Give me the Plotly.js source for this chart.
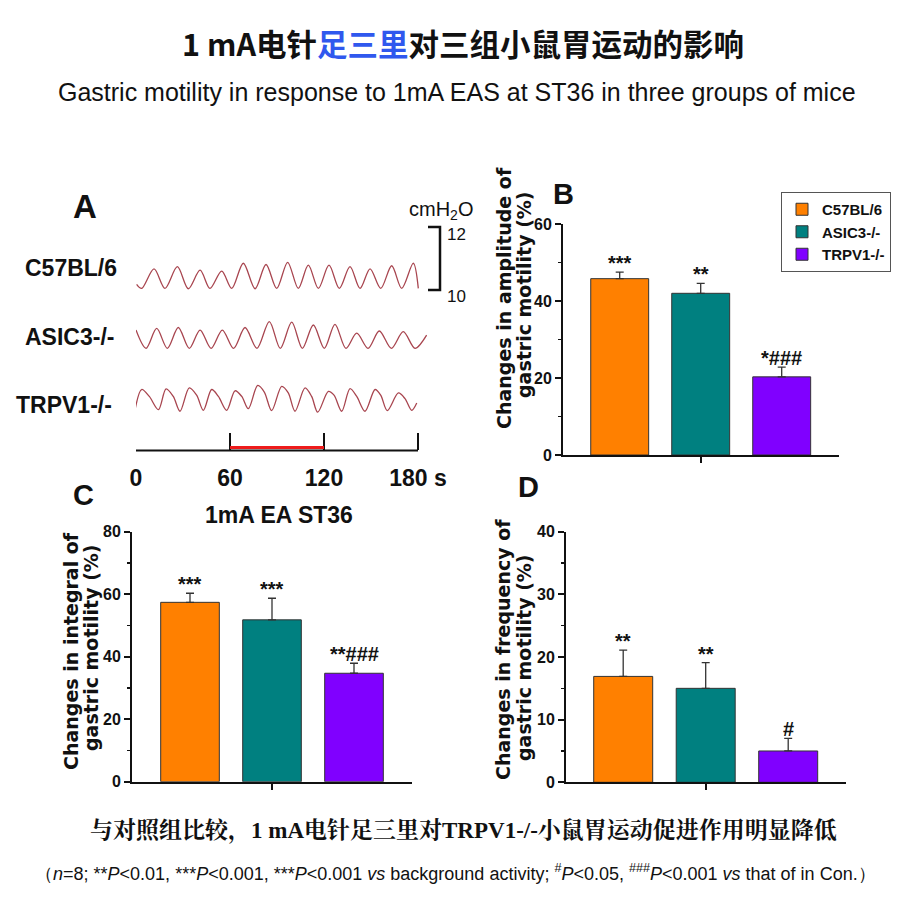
<!DOCTYPE html>
<html>
<head>
<meta charset="utf-8">
<script src="https://cdn.plot.ly/plotly-3.0.1.min.js"></script>
<style>html,body{margin:0;padding:0;background:#fff}#chart{width:900px;height:921px}</style>
</head>
<body>
<div id="chart"></div>
<script>
// ---------------- DATA ----------------
const categories = ['C57BL/6', 'ASIC3-/-', 'TRPV1-/-'];

// Panel B: amplitude change (%)
const amplitude = [45.8, 42.0, 20.3];
const amplitudeErr = [1.7, 2.6, 2.5];
const amplitudeSig = ['***', '**', '*###'];

// Panel C: integral change (%)
const integral = [57.4, 51.8, 34.7];
const integralErr = [2.9, 6.9, 3.2];
const integralSig = ['***', '***', '**###'];

// Panel D: frequency change (%)
const frequency = [16.9, 15.0, 5.0];
const frequencyErr = [4.2, 4.1, 2.0];
const frequencySig = ['**', '**', '#'];

// Panel A: recordings (time s, pressure cmH2O), read at peaks / troughs
const c57Time = [0.4, 3.6, 11.5, 18.5, 26.4, 33.4, 40.9, 47.2, 54.7, 61.1, 68.5, 76.0, 83.0, 89.8, 96.8, 103.6, 110.0, 116.4, 123.2, 129.8, 136.6, 143.0, 149.4, 156.2, 163.2, 169.6, 177.0, 180.2];
const c57Pressure = [10.18, 10.05, 10.67, 10.05, 10.74, 10.04, 10.63, 10.05, 10.60, 10.05, 10.85, 10.04, 10.81, 10.05, 10.88, 10.05, 10.79, 10.05, 10.79, 10.05, 10.74, 10.05, 10.67, 10.05, 10.77, 10.05, 10.85, 10.05];

const asicTime = [0.0, 6.4, 13.2, 20.0, 27.0, 34.0, 40.9, 47.9, 55.1, 62.3, 69.6, 77.2, 85.1, 92.1, 99.4, 106.2, 113.2, 120.2, 127.0, 134.0, 140.9, 148.1, 155.3, 163.0, 170.6, 178.1, 185.5];
const asicPressure = [10.58, 10.00, 10.63, 10.00, 10.66, 10.00, 10.58, 10.00, 10.58, 10.00, 10.66, 10.00, 10.85, 10.00, 10.83, 10.00, 10.74, 10.00, 10.76, 10.00, 10.48, 10.00, 10.55, 10.00, 10.53, 10.00, 10.42];

const trpvTime = [-0.6, 3.6, 8.5, 14.3, 19.2, 23.8, 28.1, 34.0, 38.7, 43.0, 48.3, 52.6, 57.9, 63.2, 67.5, 71.7, 77.7, 81.9, 86.6, 93.0, 97.2, 101.5, 107.9, 112.1, 116.0, 122.8, 126.4, 131.3, 136.6, 140.9, 146.2, 152.6, 156.2, 160.4, 167.5, 171.7, 176.0, 179.2];
const trpvPressure = [10.02, 10.66, 10.44, 10.02, 10.68, 10.44, 9.97, 10.71, 10.48, 10.00, 10.66, 10.44, 10.00, 10.62, 10.44, 10.05, 10.79, 10.58, 9.99, 10.76, 10.55, 9.97, 10.71, 10.44, 9.94, 10.60, 10.48, 9.97, 10.69, 10.44, 9.97, 10.66, 10.48, 9.99, 10.55, 10.37, 10.00, 10.23];

const timeTicks = [0, 60, 120, 180];
const timeTickLabels = ['0', '60', '120', '180 s'];
const stimWindow = [60, 120];
const scaleBar = [10, 12];

// ---------------- STYLE / LAYOUT ----------------
const W = 900, H = 921;
const px = x => x / W;
const py = y => 1 - y / H;
const NARROW = "'Liberation Sans Narrow', 'Arial Narrow', 'Liberation Sans', Arial, sans-serif";
const WIDE = "'DejaVu Sans', Verdana, sans-serif";
const CJK = "'Noto Sans CJK SC', 'Noto Sans', sans-serif";
const colors = ['#ff8000', '#008080', '#8000ff'];
const traceColor = '#a8454f';
const laneOffsets = [0, -1.851, -3.819];

const traces = [];
[[c57Time, c57Pressure], [asicTime, asicPressure], [trpvTime, trpvPressure]].forEach((d, k) => {
  traces.push({
    type: 'scatter', mode: 'lines', x: d[0], y: d[1].map(v => v + laneOffsets[k]),
    line: {color: traceColor, width: 1.3, shape: 'spline', smoothing: 0.9},
    xaxis: 'x', yaxis: 'y', showlegend: false, hoverinfo: 'skip'
  });
});

const panels = [
  {ax: '2', vals: amplitude, errs: amplitudeErr, sig: amplitudeSig},
  {ax: '3', vals: integral, errs: integralErr, sig: integralSig},
  {ax: '4', vals: frequency, errs: frequencyErr, sig: frequencySig}
];
const annotations = [];
panels.forEach((p, pi) => {
  categories.forEach((c, i) => {
    traces.push({
      type: 'bar', x: [i], y: [p.vals[i]], name: c, width: 0.715,
      marker: {color: colors[i], line: {color: '#333', width: 1}},
      error_y: {type: 'data', symmetric: false, array: [p.errs[i]], arrayminus: [0], color: '#333', thickness: 1.3, width: 4},
      xaxis: 'x' + p.ax, yaxis: 'y' + p.ax, showlegend: pi === 0, legendgroup: c, hoverinfo: 'skip'
    });
    annotations.push({
      xref: 'x' + p.ax, yref: 'y' + p.ax, x: i, y: p.vals[i] + p.errs[i], text: p.sig[i],
      showarrow: false, yanchor: 'bottom', yshift: -4,
      font: {family: NARROW, size: 20, weight: 'bold', color: '#111'}
    });
  });
});

const txt = (x, y, text, size, opts) => Object.assign({
  xref: 'paper', yref: 'paper', x: px(x), y: py(y), text: text, showarrow: false,
  xanchor: 'center', yanchor: 'middle',
  font: {family: NARROW, size: size, weight: 'bold', color: '#111'}
}, opts || {});

// Panel letters and labels
annotations.push(txt(85, 206, 'A', 33));
annotations.push(txt(563, 194, 'B', 29));
annotations.push(txt(83, 495, 'C', 29));
annotations.push(txt(528, 487, 'D', 29));
annotations.push(txt(119, 268, categories[0], 23, {xanchor: 'right'}));
annotations.push(txt(116, 337, categories[1], 23, {xanchor: 'right'}));
annotations.push(txt(114, 405, categories[2], 23, {xanchor: 'right'}));
annotations.push(txt(279, 515, '1mA EA ST36', 23));
annotations.push(txt(441, 210, 'cmH<sub>2</sub>O', 20, {font: {family: NARROW, size: 20, color: '#111'}}));
annotations.push({xref: 'paper', yref: 'y', x: px(456), y: scaleBar[1], yshift: -7, text: String(scaleBar[1]), showarrow: false, xanchor: 'center', yanchor: 'middle', font: {family: NARROW, size: 17, color: '#111'}});
annotations.push({xref: 'paper', yref: 'y', x: px(456), y: scaleBar[0], yshift: -6, text: String(scaleBar[0]), showarrow: false, xanchor: 'center', yanchor: 'middle', font: {family: NARROW, size: 17, color: '#111'}});

// Rotated y titles (two lines each)
const ytitle = (x, y, text) => txt(x, y, text, 19, {textangle: -90, font: {family: WIDE, size: 19, weight: 'bold', color: '#111'}});
annotations.push(ytitle(504, 298, 'Changes in amplitude of'));
annotations.push(ytitle(524, 295, 'gastric motility (%)'));
annotations.push(ytitle(71, 651, 'Changes in integral of'));
annotations.push(ytitle(91, 648, 'gastric motility (%)'));
annotations.push(ytitle(503, 650, 'Changes in frequency of'));
annotations.push(ytitle(524, 658, 'gastric motility (%)'));

// Subtitle and footnotes
annotations.push(txt(457, 92, 'Gastric motility in response to 1mA EAS at ST36 in three groups of mice', 25, {font: {family: NARROW, size: 25, color: '#111'}}));
annotations.push(txt(463, 831, '与对照组比较，1 mA电针足三里对TRPV1-/-小鼠胃运动促进作用明显降低', 23,
  {font: {family: "'Liberation Serif', 'Noto Serif CJK SC', 'Noto Sans CJK SC', serif", size: 23, weight: 'bold', color: '#111'}}));
annotations.push(txt(455, 872, '（<i>n</i>=8; **<i>P</i>&lt;0.01, ***<i>P</i>&lt;0.001, ***<i>P</i>&lt;0.001 <i>vs</i> background activity; <sup>#</sup><i>P</i>&lt;0.05, <sup>###</sup><i>P</i>&lt;0.001 <i>vs</i> that of in Con.）', 18,
  {font: {family: NARROW, size: 18, color: '#111'}}));

const shapes = [
  // time base line
  {type: 'line', xref: 'x', yref: 'paper', x0: timeTicks[0], x1: timeTicks[timeTicks.length - 1], y0: py(450.5), y1: py(450.5), line: {color: '#111', width: 2.2}},
  // stimulation period
  {type: 'line', xref: 'x', yref: 'paper', x0: stimWindow[0], x1: stimWindow[1], y0: py(447.5), y1: py(447.5), line: {color: '#ee1c1c', width: 3.2}},
  // pressure scale bar
  {type: 'path', xref: 'paper', yref: 'y', path: `M ${px(428)} ${scaleBar[0]} L ${px(440)} ${scaleBar[0]} L ${px(440)} ${scaleBar[1]} L ${px(428)} ${scaleBar[1]}`, line: {color: '#111', width: 2.5}}
];

const tickFont = {family: NARROW, size: 16, weight: 'bold', color: '#111'};
const barX = (dom, range) => ({
  domain: dom, range: range, showgrid: false, zeroline: false, showline: true, linecolor: '#111', linewidth: 2,
  tickvals: [1], showticklabels: false, ticks: 'outside', ticklen: 6, tickwidth: 2, tickcolor: '#111', fixedrange: true
});
const barY = (dom, range, dtick, minor) => ({
  domain: dom, range: range, dtick: dtick, showgrid: false, zeroline: false, showline: true, linecolor: '#111', linewidth: 2,
  ticks: 'outside', ticklen: 6, tickwidth: 2, tickcolor: '#111', tickfont: tickFont,
  minor: {dtick: minor, ticks: 'outside', ticklen: 3, tickwidth: 1.5, tickcolor: '#111'}, fixedrange: true
});

const layout = {
  width: W, height: H, margin: {l: 0, r: 0, t: 0, b: 0}, paper_bgcolor: '#fff', plot_bgcolor: 'rgba(0,0,0,0)',
  title: {
    text: '1 mA电针<span style="color:#3058ee">足三里</span>对三组小鼠胃运动的影响',
    font: {family: CJK, size: 30.5, weight: 'bold', color: '#111'},
    x: px(463), xanchor: 'center', xref: 'paper', y: py(45), yanchor: 'middle', yref: 'paper'
  },
  showlegend: true,
  legend: {
    x: px(781), y: py(192), xanchor: 'left', yanchor: 'top', bgcolor: '#fff', bordercolor: '#555', borderwidth: 1,
    font: {family: NARROW, size: 15, weight: 'bold', color: '#111'}, tracegroupgap: 0, itemwidth: 30, traceorder: 'normal'
  },
  xaxis: {
    domain: [px(136), px(136 + 205 * 282 / 180)], range: [0, 205], showgrid: false, zeroline: false, showline: false,
    tickvals: timeTicks, ticktext: timeTickLabels, ticks: 'inside', ticklen: 17, tickwidth: 2, tickcolor: '#111',
    ticklabelstandoff: 12, tickfont: {family: NARROW, size: 23, weight: 'bold', color: '#111'}, fixedrange: true
  },
  yaxis: {domain: [py(450), py(215)], range: [10 - 160 / 31.5, 10 + 75 / 31.5], visible: false, fixedrange: true},
  xaxis2: Object.assign(barX([px(563), px(839)], [1 - 137.7 / 81, 1 + 138.3 / 81]), {anchor: 'y2'}),
  yaxis2: Object.assign(barY([py(455), py(224)], [0, 60], 20, 10), {anchor: 'x2'}),
  xaxis3: Object.assign(barX([px(132), px(412)], [1 - 140 / 82, 1 + 140 / 82]), {anchor: 'y3'}),
  yaxis3: Object.assign(barY([py(781.7), py(531.7)], [0, 80], 20, 10), {anchor: 'x3'}),
  xaxis4: Object.assign(barX([px(566), px(845.7)], [1 - 139.7 / 82.5, 1 + 140 / 82.5]), {anchor: 'y4'}),
  yaxis4: Object.assign(barY([py(782.3), py(531.7)], [0, 40], 10, 5), {anchor: 'x4'}),
  annotations: annotations,
  shapes: shapes
};

Plotly.newPlot('chart', traces, layout, {displayModeBar: false, staticPlot: true});
</script>
</body>
</html>
